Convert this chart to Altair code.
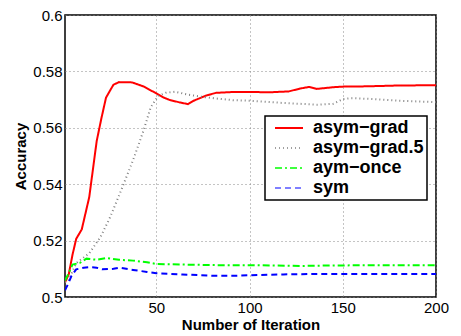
import altair as alt
import pandas as pd

series_names = ["asym\u2212grad", "asym\u2212grad.5", "aym\u2212once", "sym"]

red_x = [1, 3, 5, 7, 10, 14, 18, 20.5, 23, 27, 30, 37, 43, 50, 54, 57, 62.5, 67, 70, 77, 82, 91, 100, 111, 121, 127, 132, 136, 145, 150, 162.5, 180, 200]
red_y = [0.5052, 0.508, 0.5149, 0.5206, 0.524, 0.5354, 0.5553, 0.5633, 0.5707, 0.5753, 0.5762, 0.5761, 0.5747, 0.5722, 0.5707, 0.5699, 0.569, 0.5684, 0.5696, 0.5715, 0.5724, 0.5727, 0.5727, 0.5726, 0.5729, 0.5739, 0.5745, 0.5738, 0.5744, 0.5746, 0.5747, 0.575, 0.5751]

grey_x = [1, 2.7, 7, 14, 20, 25, 30, 37.5, 43, 47, 51, 55, 60, 66, 73, 82, 91, 100, 109, 118, 127, 136, 145, 150, 155, 166, 180, 200]
grey_y = [0.5052, 0.5056, 0.512, 0.5155, 0.5212, 0.528, 0.536, 0.5485, 0.5588, 0.5673, 0.5713, 0.5724, 0.5728, 0.5719, 0.5711, 0.5704, 0.5698, 0.5696, 0.5692, 0.5688, 0.5685, 0.5682, 0.5685, 0.5702, 0.5705, 0.5702, 0.5696, 0.5691]

green_x = [1, 3.5, 5, 9, 12.5, 18, 23, 30, 37.5, 45, 50, 64, 82, 100, 127, 145, 200]
green_y = [0.5058, 0.5092, 0.5115, 0.5121, 0.5136, 0.5132, 0.5138, 0.5132, 0.5129, 0.5123, 0.5117, 0.5115, 0.5113, 0.5113, 0.511, 0.5112, 0.5113]

blue_x = [1, 2.7, 4.5, 7, 11, 14, 18, 21, 27, 30, 37.5, 45, 50, 64, 82, 91, 100, 118, 136, 200]
blue_y = [0.5024, 0.5047, 0.5075, 0.5098, 0.5104, 0.5106, 0.5104, 0.5098, 0.51, 0.5104, 0.5096, 0.5089, 0.5084, 0.508, 0.5075, 0.5075, 0.5077, 0.508, 0.5082, 0.5082]

x_ticks = [50, 100, 150, 200]
y_ticks = [0.5, 0.52, 0.54, 0.56, 0.58, 0.6]

rows = []
for name, xs, ys in zip(series_names, [red_x, grey_x, green_x, blue_x], [red_y, grey_y, green_y, blue_y]):
    for i, (x, y) in enumerate(zip(xs, ys)):
        rows.append({"series": name, "iter": x, "acc": y, "order": i})
df = pd.DataFrame(rows)

FONT = "Liberation Sans"

chart = alt.Chart(df).mark_line(strokeWidth=2, clip=True).encode(
    x=alt.X("iter:Q", scale=alt.Scale(domain=[1, 200], nice=False, zero=False),
            axis=alt.Axis(values=x_ticks, title="Number of Iteration", labelFlush=False)),
    y=alt.Y("acc:Q", scale=alt.Scale(domain=[0.5, 0.6], nice=False, zero=False),
            axis=alt.Axis(values=y_ticks, format="~g", title="Accuracy")),
    color=alt.Color("series:N",
                    scale=alt.Scale(domain=series_names, range=["#ff0000", "#808080", "#00ff00", "#0000ff"]),
                    legend=alt.Legend(title=None, orient="none", legendX=200, legendY=101,
                                      fillColor="white", strokeColor="black",
                                      padding=3, rowPadding=2,
                                      symbolType="M-1.75,0H1.75", symbolSize=256, symbolStrokeWidth=2,
                                      symbolOffset=12, labelOffset=15,
                                      labelExpr="datum.label + '\u00a0'",
                                      labelFont=FONT, labelFontSize=18, labelFontWeight="bold",
                                      labelColor="black")),
    strokeDash=alt.StrokeDash("series:N",
                              scale=alt.Scale(domain=series_names, range=[[1, 0], [1, 3], [7, 3, 2, 3], [6, 4]]),
                              legend=None),
    strokeWidth=alt.StrokeWidth("series:N",
                                scale=alt.Scale(domain=series_names, range=[2, 1.2, 2, 2]),
                                legend=None),
    order="order:Q",
).properties(
    width=371, height=282,
    padding={"left": 57, "top": 7, "right": 14, "bottom": 37},
    autosize=alt.AutoSizeParams(type="none"),
).configure_view(
    stroke="black", strokeWidth=1.5
).configure_legend(
    strokeWidth=1.5
).configure_axis(
    domain=False, ticks=False,
    grid=True, gridColor="#888888", gridDash=[1, 3], gridWidth=1,
    labelFont=FONT, labelFontSize=15, labelColor="black",
    titleFont=FONT, titleFontSize=15, titleFontWeight="bold", titleColor="black",
).configure_axisX(
    labelPadding=3, titlePadding=2
).configure_axisY(
    labelPadding=3, titlePadding=4
)

chart.save("out.html", embed_options={"renderer": "svg", "actions": False})
